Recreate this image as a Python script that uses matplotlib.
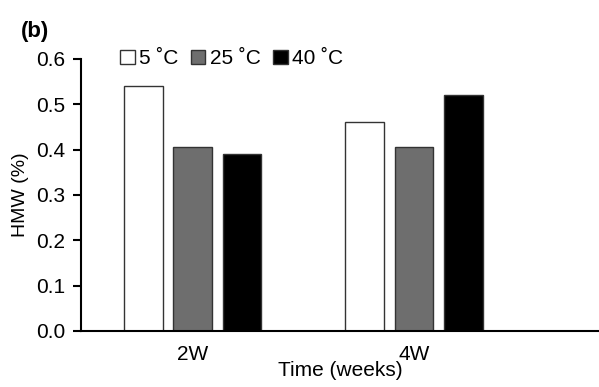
import matplotlib.pyplot as plt
import numpy as np

plt.rcParams['font.family'] = ['Liberation Sans', 'DejaVu Sans']

weeks = ['2W', '4W']
temps = ['5 ˚C', '25 ˚C', '40 ˚C']
hmw = {
    '5 ˚C': [0.54, 0.46],
    '25 ˚C': [0.405, 0.405],
    '40 ˚C': [0.39, 0.52],
}
colors = ['white', '#6e6e6e', 'black']

fig = plt.figure(figsize=(5.99, 3.87), dpi=100)
ax = fig.add_axes([0.135, 0.145, 0.865, 0.703])

x = np.arange(len(weeks))
w = 0.176
step = 0.222
for i, t in enumerate(temps):
    ax.bar(x + (i - 1) * step, hmw[t], width=w, color=colors[i],
           edgecolor='#333333', linewidth=1.0, label=t)

ax.set_xlim(-0.507, 1.837)
ax.set_ylim(0, 0.6)
ax.set_yticks(np.arange(0, 0.61, 0.1))
ax.set_yticklabels([f'{v:.1f}' for v in np.arange(0, 0.61, 0.1)])
ax.set_xticks(x)
ax.set_xticklabels(weeks)
ax.tick_params(axis='x', length=0, pad=10, labelsize=15)
ax.tick_params(axis='y', direction='out', length=6, width=1.5, labelsize=15, pad=5)
for s in ['top', 'right']:
    ax.spines[s].set_visible(False)
ax.spines['left'].set_linewidth(1.5)
ax.spines['bottom'].set_linewidth(1.5)

ax.set_ylabel('HMW (%)', fontsize=14, labelpad=5)
ax.set_xlabel('Time (weeks)', fontsize=15, labelpad=-2)

ax.legend(loc='upper left', bbox_to_anchor=(0.06, 1.065), ncol=3, frameon=False,
          fontsize=15, handlelength=0.7, handleheight=0.7, handletextpad=0.2,
          columnspacing=0.6, borderaxespad=0)

fig.text(0.035, 0.905, '(b)', fontsize=16, fontweight='bold')

fig.savefig('out.png', dpi=100)
